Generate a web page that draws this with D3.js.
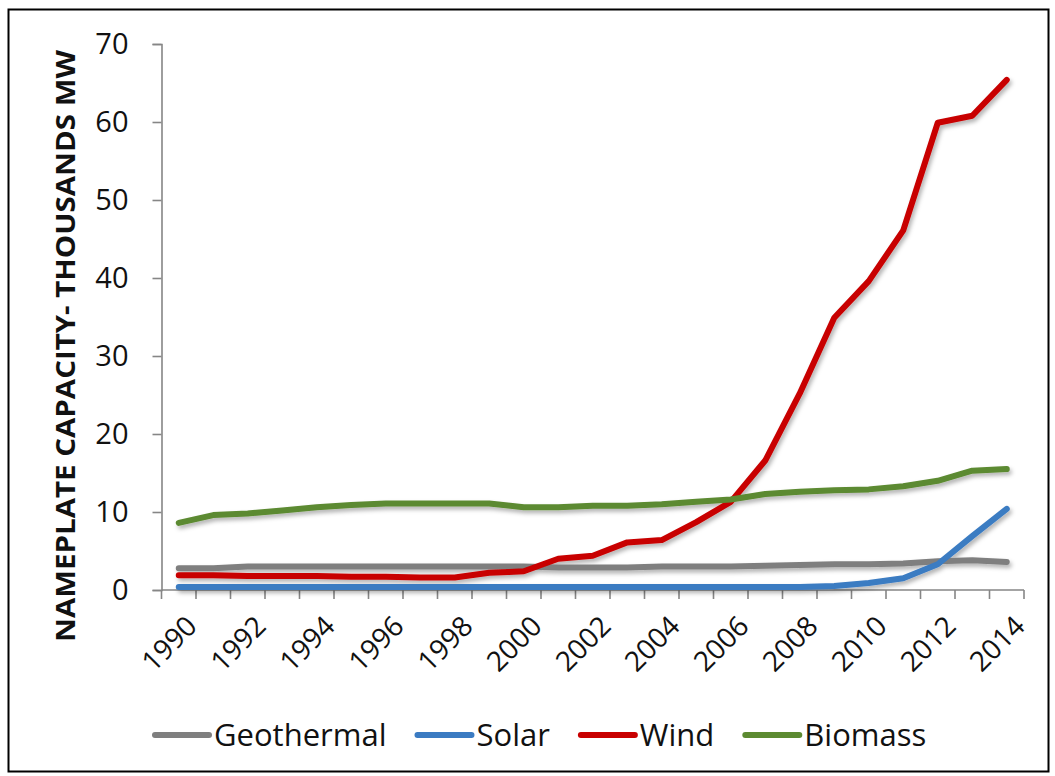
<!DOCTYPE html>
<html>
<head>
<meta charset="utf-8">
<script src="https://cdn.jsdelivr.net/npm/d3@7"></script>
<style>
  html, body { margin: 0; padding: 0; background: #fff; }
  svg { display: block; font-family: "Open Sans", Lato, sans-serif; }
</style>
</head>
<body>
<svg id="chart" width="1055" height="776"></svg>
<script>
// US renewable nameplate capacity, thousands of MW
const years = [1990, 1991, 1992, 1993, 1994, 1995, 1996, 1997, 1998, 1999, 2000, 2001, 2002,
               2003, 2004, 2005, 2006, 2007, 2008, 2009, 2010, 2011, 2012, 2013, 2014];
const geothermal = [2.8, 2.8, 3.0, 3.0, 3.0, 3.0, 3.0, 3.0, 3.0, 3.0, 3.0, 2.9, 2.9,
                    2.9, 3.0, 3.0, 3.0, 3.1, 3.2, 3.3, 3.3, 3.4, 3.7, 3.8, 3.6];
const solar = [0.4, 0.4, 0.4, 0.4, 0.4, 0.4, 0.4, 0.4, 0.4, 0.4, 0.4, 0.4, 0.4,
               0.4, 0.4, 0.4, 0.4, 0.4, 0.4, 0.5, 0.9, 1.5, 3.3, 6.9, 10.4];
const wind = [1.9, 1.9, 1.8, 1.8, 1.8, 1.7, 1.7, 1.6, 1.6, 2.2, 2.4, 4.0, 4.4,
              6.1, 6.4, 8.7, 11.3, 16.6, 25.2, 34.9, 39.6, 46.1, 59.9, 60.8, 65.4];
const biomass = [8.6, 9.6, 9.8, 10.2, 10.6, 10.9, 11.1, 11.1, 11.1, 11.1, 10.6, 10.6, 10.8,
                 10.8, 11.0, 11.3, 11.6, 12.3, 12.6, 12.8, 12.9, 13.3, 14.0, 15.3, 15.5];
const yTicks = [0, 10, 20, 30, 40, 50, 60, 70];
const yearLabels = [1990, 1992, 1994, 1996, 1998, 2000, 2002, 2004, 2006, 2008, 2010, 2012, 2014];
const seriesNames = ["Geothermal", "Solar", "Wind", "Biomass"];
const seriesValues = [geothermal, solar, wind, biomass];
const seriesColors = ["#7f7f7f", "#3b7bc2", "#c80000", "#5c8a31"];
const yTitle = "NAMEPLATE CAPACITY- THOUSANDS MW";

const svg = d3.select("#chart");
const axisColor = "#868686";

// outer frame
svg.append("rect")
  .attr("x", 8.5).attr("y", 9.5).attr("width", 1040).attr("height", 762)
  .attr("fill", "none").attr("stroke", "#000").attr("stroke-width", 2);

const plot = { left: 161.5, right: 1024, top: 44, bottom: 590 };

const x = d3.scaleBand().domain(years).range([plot.left, plot.right]).paddingInner(0).paddingOuter(0);
const y = d3.scaleLinear().domain([0, 70]).range([plot.bottom, plot.top]);
const cx = d => x(d) + x.bandwidth() / 2;

// soft shadow under the series lines
const defs = svg.append("defs");
const f = defs.append("filter").attr("id", "lineShadow")
  .attr("x", "-5%").attr("y", "-5%").attr("width", "110%").attr("height", "110%");
f.append("feDropShadow").attr("dx", 2).attr("dy", 3).attr("stdDeviation", 2)
  .attr("flood-color", "#000").attr("flood-opacity", 0.3);

// y axis
const yAxis = svg.append("g")
  .attr("transform", `translate(${plot.left},0)`)
  .call(d3.axisLeft(y).tickValues(yTicks).tickSize(9).tickPadding(24).tickFormat(d3.format("d")));
yAxis.select(".domain").attr("stroke", axisColor).attr("stroke-width", 1.6);
yAxis.selectAll(".tick line").attr("stroke", axisColor).attr("stroke-width", 1.6);
yAxis.selectAll(".tick text")
  .attr("fill", "#111").style("font-size", "29px").style("font-family", "'Open Sans', Lato, sans-serif");

// x axis with ticks between categories
const xg = svg.append("g");
xg.append("line")
  .attr("x1", plot.left).attr("x2", plot.right)
  .attr("y1", plot.bottom).attr("y2", plot.bottom)
  .attr("stroke", axisColor).attr("stroke-width", 1.6);
const boundaries = years.map(d => x(d)).concat([x(years[years.length - 1]) + x.bandwidth()]);
xg.selectAll("line.tick").data(boundaries).join("line")
  .attr("class", "tick")
  .attr("x1", d => d).attr("x2", d => d)
  .attr("y1", plot.bottom).attr("y2", plot.bottom + 9)
  .attr("stroke", axisColor).attr("stroke-width", 1.6);
xg.selectAll("text.year").data(yearLabels).join("text")
  .attr("class", "year")
  .attr("transform", d => `translate(${cx(d) + 13},${plot.bottom + 31}) rotate(-45)`)
  .attr("text-anchor", "end")
  .attr("dy", "0.35em")
  .attr("fill", "#111")
  .style("font-size", "28px")
  .text(d => d);

// y axis title
svg.append("text")
  .attr("transform", "translate(75,346) rotate(-90)")
  .attr("text-anchor", "middle")
  .attr("font-weight", "bold")
  .attr("fill", "#111")
  .style("font-size", "27px")
  .attr("textLength", 592)
  .attr("lengthAdjust", "spacingAndGlyphs")
  .text(yTitle);

// series lines
const line = d3.line()
  .x((d, i) => cx(years[i]))
  .y(d => y(d));
svg.append("g").attr("filter", "url(#lineShadow)")
  .selectAll("path").data(seriesValues).join("path")
  .attr("d", d => line(d))
  .attr("fill", "none")
  .attr("stroke", (d, i) => seriesColors[i])
  .attr("stroke-width", 6)
  .attr("stroke-linejoin", "round")
  .attr("stroke-linecap", "round");

// legend
const legend = svg.append("g").attr("transform", "translate(0,735)");
let lx = 155;
seriesNames.forEach((name, i) => {
  legend.append("line")
    .attr("x1", lx).attr("x2", lx + 54).attr("y1", 0).attr("y2", 0)
    .attr("stroke", seriesColors[i]).attr("stroke-width", 6).attr("stroke-linecap", "round");
  const t = legend.append("text")
    .attr("x", lx + 59).attr("y", 0).attr("dy", "0.36em")
    .attr("fill", "#111")
    .style("font-size", "31px")
    .text(name);
  lx += 59 + t.node().getComputedTextLength() + 31;
});
</script>
</body>
</html>
